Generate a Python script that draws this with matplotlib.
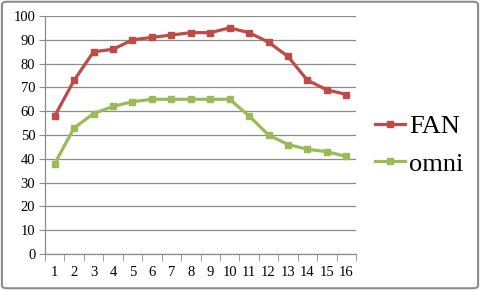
import matplotlib
matplotlib.use("Agg")
import matplotlib.pyplot as plt
from matplotlib.patches import FancyBboxPatch

categories = list(range(1, 17))
fan = [58, 73, 85, 86, 90, 91, 92, 93, 93, 95, 93, 89, 83, 73, 69, 67]
omni = [38, 53, 59, 62, 64, 65, 65, 65, 65, 65, 58, 50, 46, 44, 43, 41]
yticks = list(range(0, 101, 10))

plt.rcParams['font.family'] = ['Liberation Serif', 'DejaVu Serif']

fig = plt.figure(figsize=(4.8, 2.9), dpi=100)
ax = fig.add_axes([45/480, 36/290, (356-45)/480, (254-16)/290])

grid_c = '#8c8c8c'
ax.plot(categories, fan, color='#BE4B48', lw=2.3, marker='s', ms=5, label='FAN')
ax.plot(categories, omni, color='#9BBB59', lw=2.3, marker='s', ms=5, label='omni')

ax.set_xlim(0.5, 16.5)
ax.set_ylim(0, 100)
ax.set_yticks(yticks)
ax.set_xticks(categories)
ax.set_xticks([i + 0.5 for i in range(0, 17)], minor=True)
ax.tick_params(axis='x', which='major', length=0, pad=9, labelsize=10.5)
ax.tick_params(axis='x', which='minor', length=5, color=grid_c, direction='out')
ax.tick_params(axis='y', length=4, color=grid_c, labelsize=10.5, pad=3)
ax.yaxis.grid(True, color=grid_c, lw=0.9)
ax.set_axisbelow(True)
for s in ['top', 'right']:
    ax.spines[s].set_visible(False)
for s in ['left', 'bottom']:
    ax.spines[s].set_color(grid_c)
    ax.spines[s].set_linewidth(0.9)

fig.legend(loc='center left', bbox_to_anchor=(375/480, 1 - 145/290), frameon=False,
           fontsize=19, handlelength=1.15, handletextpad=0.15, labelspacing=0.55,
           borderpad=0, borderaxespad=0)

border = FancyBboxPatch((0.004, 0.006), 0.992, 0.988, boxstyle='round,pad=0,rounding_size=0.01',
                        transform=fig.transFigure, fill=False, edgecolor='#8c8c8c', lw=1.5)
fig.patches.append(border)

fig.savefig('out.png', dpi=100)
